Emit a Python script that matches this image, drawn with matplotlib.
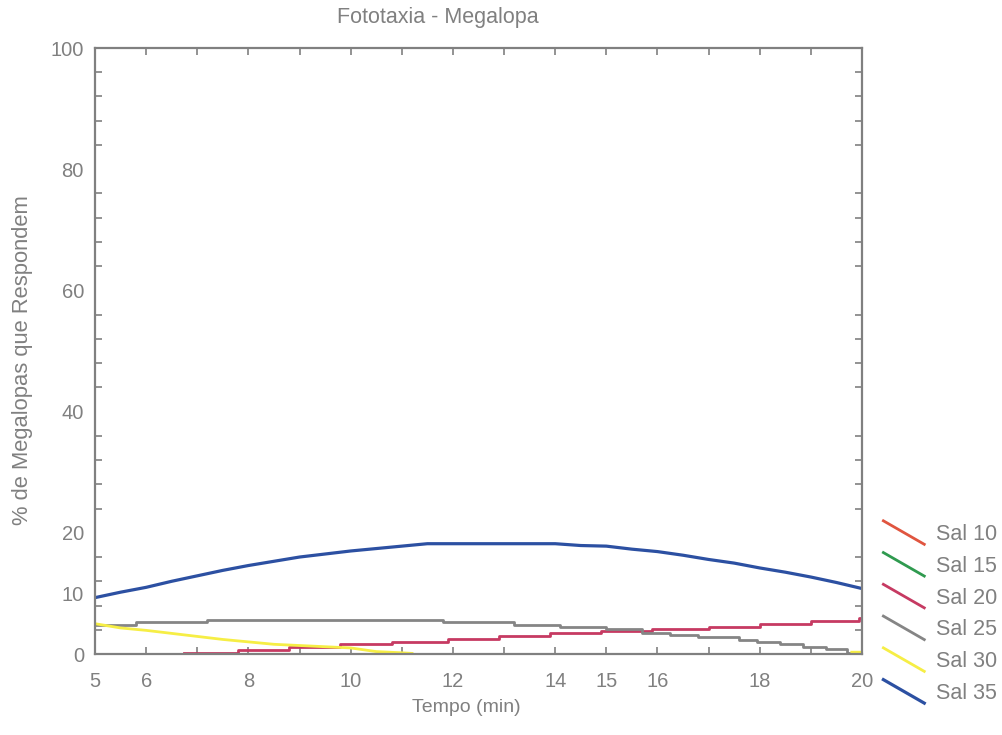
import numpy as np
import matplotlib
matplotlib.use("Agg")
import matplotlib.pyplot as plt
from matplotlib.lines import Line2D
from matplotlib.legend_handler import HandlerBase

plt.rcParams['font.family'] = ['Liberation Sans', 'DejaVu Sans']

# --- data ---
sal35_t = [5.0, 5.5, 6.0, 6.5, 7.0, 7.5, 8.0, 8.5, 9.0, 9.5, 10.0, 10.5, 11.0, 11.5,
           12.0, 12.5, 13.0, 13.5, 14.0, 14.5, 15.0, 15.5, 16.0, 16.5, 17.0, 17.5,
           18.0, 18.5, 19.0, 19.5, 20.0]
sal35_y = [9.3, 10.2, 11.0, 12.0, 12.9, 13.8, 14.6, 15.3, 16.0, 16.5, 17.0, 17.4, 17.8, 18.2,
           18.2, 18.2, 18.2, 18.2, 18.2, 17.9, 17.8, 17.3, 16.9, 16.3, 15.6, 15.0,
           14.2, 13.5, 12.7, 11.8, 10.8]

sal25_t = [5.0, 5.8, 7.2, 11.8, 13.2, 14.1, 15.0, 15.7, 16.25, 16.8, 17.6, 17.95,
           18.4, 18.85, 19.3, 19.7, 20.0]
sal25_y = [4.8, 5.2, 5.6, 5.3, 4.8, 4.4, 4.1, 3.5, 3.1, 2.8, 2.3, 2.0,
           1.6, 1.2, 0.8, 0.2, 0.0]

sal20_t = [6.75, 7.8, 8.8, 9.8, 10.8, 11.9, 12.9, 13.9, 14.9, 15.9, 17.0, 18.0, 19.0, 19.95, 20.0]
sal20_y = [0.2, 0.7, 1.2, 1.6, 2.0, 2.5, 3.0, 3.4, 3.8, 4.1, 4.5, 4.9, 5.4, 5.9, 5.9]

sal30_t = [5.0, 5.5, 6.0, 6.5, 7.0, 7.5, 8.0, 8.5, 9.0, 9.5, 10.0, 10.5, 11.0, 11.2,
           np.nan, 19.8, 20.0]
sal30_y = [5.0, 4.3, 3.9, 3.4, 2.9, 2.4, 2.0, 1.6, 1.4, 1.2, 1.0, 0.4, 0.2, 0.1,
           np.nan, 0.3, 0.3]

labels = ['Sal 10', 'Sal 15', 'Sal 20', 'Sal 25', 'Sal 30', 'Sal 35']
colors = ['#e0553f', '#2f9a4f', '#c63a62', '#858585', '#f6ee45', '#2c50a2']

xtick_labels = {5: '5', 6: '6', 8: '8', 10: '10', 12: '12', 14: '14',
                15: '15', 16: '16', 18: '18', 20: '20'}
ytick_vals = [0, 10, 20, 40, 60, 80, 100]

gray = '#808080'


class DiagHandler(HandlerBase):
    def create_artists(self, legend, orig_handle, xdescent, ydescent,
                       width, height, fontsize, trans):
        yc = -ydescent + height / 2
        ln = Line2D([-xdescent, -xdescent + width], [yc + 0.78 * height, yc - 0.78 * height],
                    color=orig_handle.get_color(), lw=orig_handle.get_linewidth(),
                    transform=trans)
        return [ln]


fig = plt.figure(figsize=(10.03, 7.35), dpi=100)
ax = fig.add_axes([95 / 1003, 1 - 654 / 735, (862 - 95) / 1003, (654 - 48) / 735])

handles = []
handles.append(ax.plot([], [], color=colors[0], lw=2.0, label=labels[0])[0])
handles.append(ax.plot([], [], color=colors[1], lw=2.0, label=labels[1])[0])
handles.append(ax.plot(sal20_t, sal20_y, color=colors[2], lw=2.0, drawstyle='steps-post',
                       label=labels[2])[0])
handles.append(ax.plot(sal25_t, sal25_y, color=colors[3], lw=2.0, drawstyle='steps-post',
                       label=labels[3])[0])
handles.append(ax.plot(sal30_t, sal30_y, color=colors[4], lw=2.0, label=labels[4])[0])
handles.append(ax.plot(sal35_t, sal35_y, color=colors[5], lw=2.3, label=labels[5])[0])

ax.set_xlim(5, 20)
ax.set_ylim(0, 100)

ax.set_xticks(range(5, 21))
ax.set_xticklabels([xtick_labels.get(v, '') for v in range(5, 21)])
ax.set_yticks(ytick_vals)
ax.set_yticks(np.arange(0, 101, 4), minor=True)

ax.tick_params(axis='x', which='major', direction='in', length=5, width=1.2,
               top=True, colors=gray, labelcolor=gray, labelsize=14.5, pad=13)
ax.tick_params(axis='y', which='major', length=0, labelcolor=gray, labelsize=14.5, pad=8)
ax.tick_params(axis='y', which='minor', direction='in', length=5, width=1.2,
               right=True, colors=gray)

for s in ax.spines.values():
    s.set_color(gray)
    s.set_linewidth(1.6)

fig.text(438 / 1003, 1 - 18 / 735, 'Fototaxia - Megalopa', ha='center', va='center',
         color=gray, fontsize=15.5)
fig.text(466 / 1003, 1 - 708 / 735, 'Tempo (min)', ha='center', va='center',
         color=gray, fontsize=14)
fig.text(23 / 1003, 1 - 360 / 735, '% de Megalopas que Respondem', ha='center',
         va='center', rotation=90, color=gray, fontsize=15.8)

fig.legend(handles=handles, labels=labels, loc='center left',
           bbox_to_anchor=(864 / 1003, 1 - 614 / 735), frameon=False,
           fontsize=15.5, labelcolor=gray, handlelength=1.9, handletextpad=0.55,
           labelspacing=0.5, handler_map={Line2D: DiagHandler()})

fig.savefig('out.png', dpi=100)
